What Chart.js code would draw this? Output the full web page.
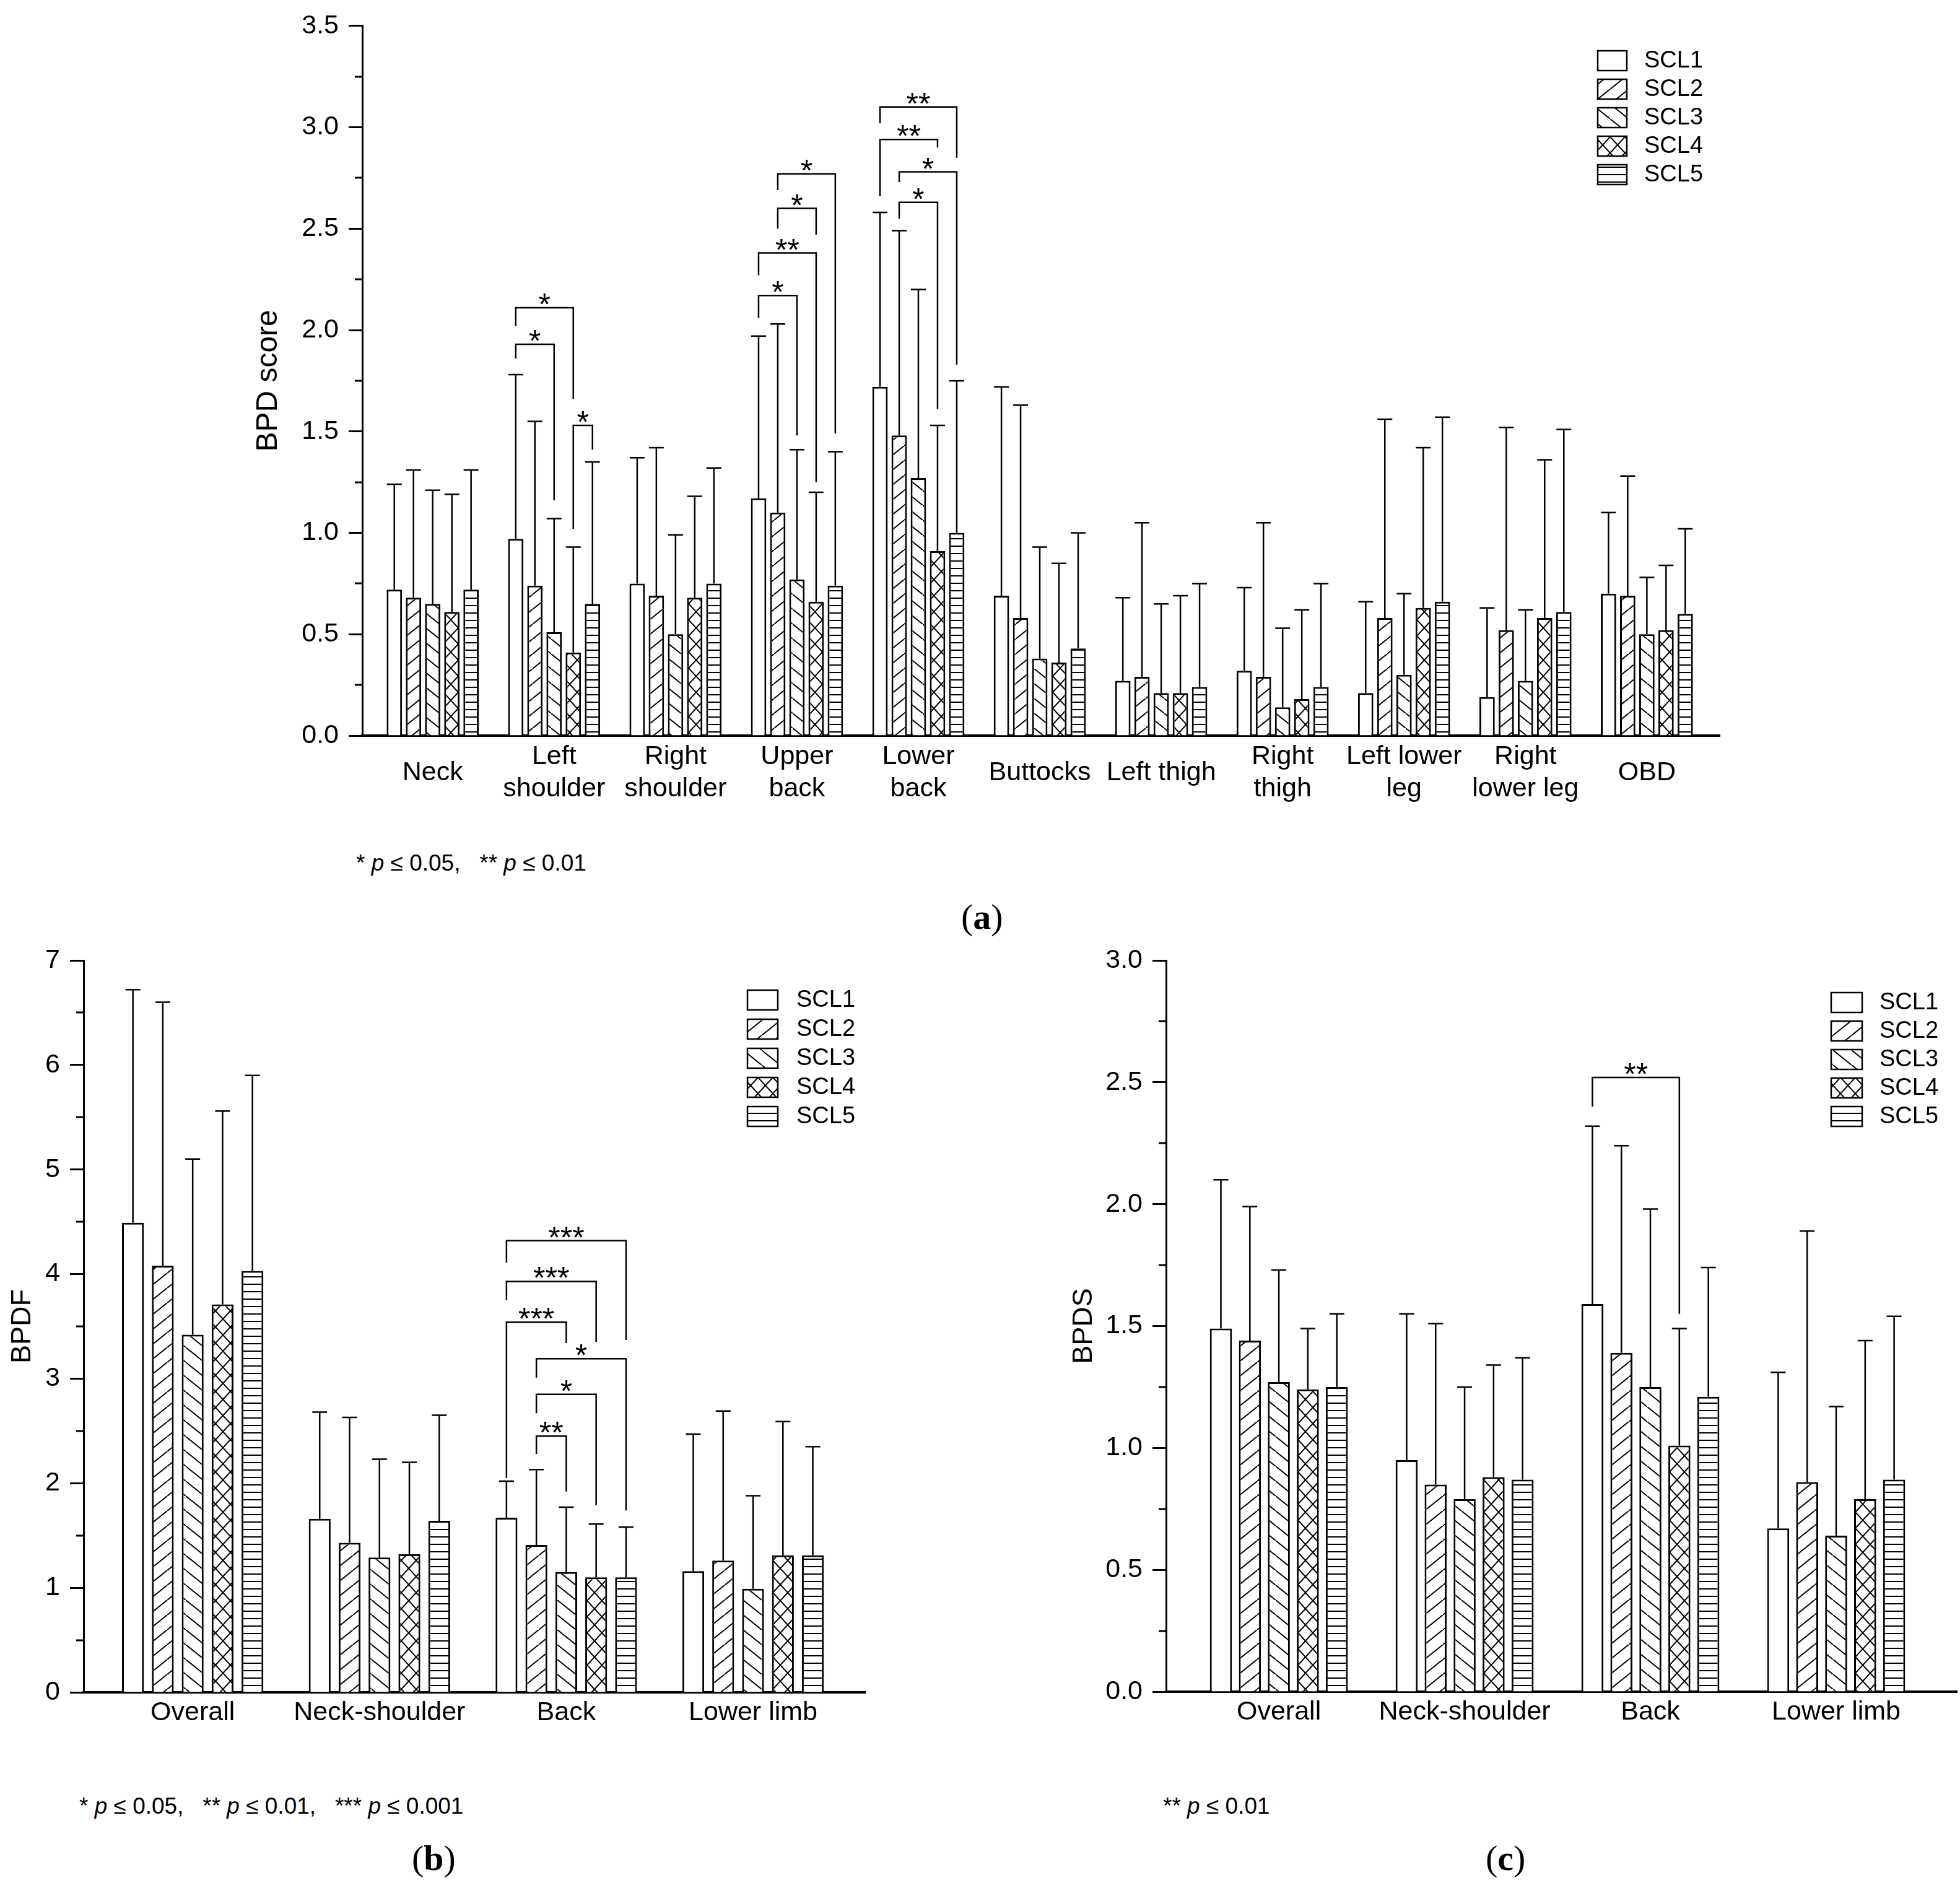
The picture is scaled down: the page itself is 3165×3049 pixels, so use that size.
<!DOCTYPE html>
<html>
<head>
<meta charset="utf-8">
<script src="https://cdn.jsdelivr.net/npm/chart.js@4.4.1/dist/chart.umd.min.js"></script>
<style>
  body { margin: 0; background: #fff; }
  #page { position: relative; width: 3165px; height: 3049px; background: #fff; font-family: "Liberation Sans", Arial, sans-serif; color: #000; }
  canvas { position: absolute; }
  .note { position: absolute; font-size: 37px; line-height: 1; white-space: pre; }
  .tag { position: absolute; font-family: "Liberation Serif", "Times New Roman", serif; font-size: 58px; line-height: 1; }
</style>
</head>
<body>
<div id="page">
  <canvas id="chart-a" width="2420" height="1330" style="left:380px;top:0px"></canvas>
  <canvas id="chart-b" width="1420" height="1330" style="left:0px;top:1480px"></canvas>
  <canvas id="chart-c" width="1465" height="1330" style="left:1700px;top:1480px"></canvas>
  <div class="note" style="left:575px;top:1375px">* <i>p</i> ≤ 0.05,   ** <i>p</i> ≤ 0.01</div>
  <div class="note" style="left:128px;top:2898px">* <i>p</i> ≤ 0.05,   ** <i>p</i> ≤ 0.01,   *** <i>p</i> ≤ 0.001</div>
  <div class="note" style="left:1878px;top:2898px">** <i>p</i> ≤ 0.01</div>
  <div class="tag" style="left:1552px;top:1452px">(<b>a</b>)</div>
  <div class="tag" style="left:665px;top:2972px">(<b>b</b>)</div>
  <div class="tag" style="left:2399px;top:2972px">(<b>c</b>)</div>
</div>
<script>
// series + categories
const seriesNames = ["SCL1", "SCL2", "SCL3", "SCL4", "SCL5"];
const regionsA = [["Neck"], ["Left", "shoulder"], ["Right", "shoulder"], ["Upper", "back"], ["Lower", "back"],
  ["Buttocks"], ["Left thigh"], ["Right", "thigh"], ["Left lower", "leg"], ["Right", "lower leg"], ["OBD"]];
const regionsBC = ["Overall", "Neck-shoulder", "Back", "Lower limb"];

// (a) BPD score, mean and SD
const aMean1 = [0.72, 0.97, 0.75, 1.17, 1.72, 0.69, 0.27, 0.32, 0.21, 0.19, 0.70];
const aMean2 = [0.68, 0.74, 0.69, 1.10, 1.48, 0.58, 0.29, 0.29, 0.58, 0.52, 0.69];
const aMean3 = [0.65, 0.51, 0.50, 0.77, 1.27, 0.38, 0.21, 0.14, 0.30, 0.27, 0.50];
const aMean4 = [0.61, 0.41, 0.68, 0.66, 0.91, 0.36, 0.21, 0.18, 0.63, 0.58, 0.52];
const aMean5 = [0.72, 0.65, 0.75, 0.74, 1.00, 0.43, 0.24, 0.24, 0.66, 0.61, 0.60];
const aSd1 = [0.52, 0.81, 0.62, 0.80, 0.86, 1.03, 0.41, 0.41, 0.45, 0.44, 0.40];
const aSd2 = [0.63, 0.81, 0.73, 0.93, 1.01, 1.05, 0.76, 0.76, 0.98, 1.00, 0.59];
const aSd3 = [0.56, 0.56, 0.49, 0.64, 0.93, 0.55, 0.44, 0.39, 0.40, 0.35, 0.28];
const aSd4 = [0.58, 0.52, 0.50, 0.54, 0.62, 0.49, 0.48, 0.44, 0.79, 0.78, 0.32];
const aSd5 = [0.59, 0.70, 0.57, 0.66, 0.75, 0.57, 0.51, 0.51, 0.91, 0.90, 0.42];

// (b) BPDF
const bMean1 = [4.49, 1.66, 1.67, 1.16];
const bMean2 = [4.08, 1.43, 1.41, 1.26];
const bMean3 = [3.42, 1.29, 1.15, 0.99];
const bMean4 = [3.71, 1.32, 1.10, 1.31];
const bMean5 = [4.03, 1.64, 1.10, 1.31];
const bSd1 = [2.23, 1.02, 0.35, 1.31];
const bSd2 = [2.52, 1.20, 0.72, 1.43];
const bSd3 = [1.68, 0.94, 0.62, 0.89];
const bSd4 = [1.85, 0.88, 0.51, 1.28];
const bSd5 = [1.87, 1.01, 0.48, 1.04];

// (c) BPDS
const cMean1 = [1.49, 0.95, 1.59, 0.67];
const cMean2 = [1.44, 0.85, 1.39, 0.86];
const cMean3 = [1.27, 0.79, 1.25, 0.64];
const cMean4 = [1.24, 0.88, 1.01, 0.79];
const cMean5 = [1.25, 0.87, 1.21, 0.87];
const cSd1 = [0.61, 0.60, 0.73, 0.64];
const cSd2 = [0.55, 0.66, 0.85, 1.03];
const cSd3 = [0.46, 0.46, 0.73, 0.53];
const cSd4 = [0.25, 0.46, 0.48, 0.65];
const cSd5 = [0.30, 0.50, 0.53, 0.67];

// significance brackets: [category, from series, to series, bar level, left leg end, right leg end, stars]
const sigA = [
  [1, 0, 2, 1.93, 1.86, 1.16, "*"], [1, 0, 3, 2.11, 2.02, 1.66, "*"], [1, 3, 4, 1.53, 1.02, 1.41, "*"],
  [3, 0, 2, 2.17, 2.06, 1.48, "*"], [3, 0, 3, 2.38, 2.27, 1.25, "**"], [3, 1, 3, 2.60, 2.50, 2.47, "*"], [3, 1, 4, 2.77, 2.69, 1.49, "*"],
  [4, 0, 4, 3.10, 3.02, 2.85, "**"], [4, 0, 3, 2.94, 2.66, 2.90, "**"], [4, 1, 4, 2.78, 2.73, 1.83, "*"], [4, 1, 3, 2.63, 2.55, 1.61, "*"]
];
const sigB = [
  [2, 0, 4, 4.32, 4.11, 3.37, "***"], [2, 0, 3, 3.93, 3.75, 3.35, "***"], [2, 0, 2, 3.54, 2.05, 3.34, "***"],
  [2, 1, 4, 3.19, 3.01, 1.74, "*"], [2, 1, 3, 2.85, 2.67, 1.79, "*"], [2, 1, 2, 2.45, 2.28, 1.92, "**"]
];
const sigC = [
  [2, 0, 3, 2.52, 2.40, 1.55, "**"]
];

const FONT = "'Liberation Sans', Arial, sans-serif";

function makeTile(w, h, draw) {
  const c = document.createElement("canvas");
  c.width = w; c.height = h;
  const t = c.getContext("2d");
  t.fillStyle = "#fff";
  t.fillRect(0, 0, w, h);
  t.strokeStyle = "#000";
  t.lineWidth = 2;
  t.beginPath();
  draw(t, w, h);
  t.stroke();
  return c;
}

function makePatterns(ctx) {
  const fwd = makeTile(30, 24, (t, w, h) => {
    t.moveTo(0, h); t.lineTo(w, 0);
    t.moveTo(-w, h); t.lineTo(0, 0);
    t.moveTo(w, 2 * h); t.lineTo(2 * w, h);
  });
  const back = makeTile(30, 24, (t, w, h) => {
    t.moveTo(0, 0); t.lineTo(w, h);
    t.moveTo(-w, -h); t.lineTo(0, 0);
    t.moveTo(w, h); t.lineTo(2 * w, 2 * h);
  });
  const cross = makeTile(24, 26, (t, w, h) => {
    t.moveTo(0, 0); t.lineTo(w, h);
    t.moveTo(0, h); t.lineTo(w, 0);
  });
  const horiz = makeTile(8, 12, (t, w, h) => {
    t.moveTo(0, 6); t.lineTo(w, 6);
  });
  return ["#fff",
    ctx.createPattern(fwd, "repeat"),
    ctx.createPattern(back, "repeat"),
    ctx.createPattern(cross, "repeat"),
    ctx.createPattern(horiz, "repeat")];
}

const extras = {
  id: "extras",
  afterDatasetsDraw(chart, args, opts) {
    const ctx = chart.ctx;
    const y = chart.scales.y;
    const area = chart.chartArea;
    ctx.save();
    ctx.strokeStyle = "#000";
    ctx.fillStyle = "#000";

    // minor ticks
    ctx.lineWidth = 3;
    ctx.beginPath();
    for (let k = 0; (2 * k + 1) * opts.minor < y.max; k++) {
      const py = Math.round(y.getPixelForValue((2 * k + 1) * opts.minor));
      ctx.moveTo(area.left - 12, py);
      ctx.lineTo(area.left, py);
    }
    ctx.stroke();

    // error bars (mean + SD)
    ctx.lineWidth = 2.5;
    chart.data.datasets.forEach((ds, d) => {
      const meta = chart.getDatasetMeta(d);
      meta.data.forEach((el, i) => {
        const top = y.getPixelForValue(ds.data[i].y + ds.sd[i]);
        ctx.beginPath();
        ctx.moveTo(el.x, el.y);
        ctx.lineTo(el.x, top);
        ctx.moveTo(el.x - 12, top);
        ctx.lineTo(el.x + 12, top);
        ctx.stroke();
      });
    });

    // significance brackets
    ctx.lineWidth = 2.5;
    ctx.font = "50px " + FONT;
    ctx.textAlign = "center";
    ctx.textBaseline = "alphabetic";
    opts.sig.forEach(([cat, a, b, level, ya, yb, stars]) => {
      const xa = chart.getDatasetMeta(a).data[cat].x;
      const xb = chart.getDatasetMeta(b).data[cat].x;
      const py = y.getPixelForValue(level);
      ctx.beginPath();
      ctx.moveTo(xa, y.getPixelForValue(ya));
      ctx.lineTo(xa, py);
      ctx.lineTo(xb, py);
      ctx.lineTo(xb, y.getPixelForValue(yb));
      ctx.stroke();
      const m = ctx.measureText(stars);
      ctx.fillText(stars, (xa + xb) / 2, py - 5 - m.actualBoundingBoxDescent);
    });

    // legend
    const lg = opts.legend;
    ctx.font = "38px " + FONT;
    ctx.textAlign = "left";
    ctx.textBaseline = "middle";
    chart.data.datasets.forEach((ds, d) => {
      const cy = lg.y + d * lg.pitch;
      ctx.fillStyle = ds.backgroundColor;
      ctx.fillRect(lg.x, cy - 16, lg.w, 32);
      ctx.lineWidth = 2.5;
      ctx.strokeRect(lg.x, cy - 16, lg.w, 32);
      ctx.fillStyle = "#000";
      ctx.fillText(ds.label, lg.textX, cy + 1);
    });
    ctx.restore();
  }
};

function buildChart(id, cfg) {
  const canvas = document.getElementById(id);
  const patterns = makePatterns(canvas.getContext("2d"));
  const datasets = cfg.means.map((m, s) => ({
    label: seriesNames[s],
    data: m.map((v, i) => ({ x: i, y: v })),
    sd: cfg.sds[s],
    backgroundColor: patterns[s],
    borderColor: "#000",
    borderWidth: 3,
    borderSkipped: "start",
    categoryPercentage: cfg.catPct,
    barPercentage: cfg.barPct
  }));

  return new Chart(canvas, {
    type: "bar",
    data: { datasets },
    plugins: [extras],
    options: {
      responsive: false,
      animation: false,
      devicePixelRatio: 1,
      layout: { padding: cfg.padding },
      plugins: {
        legend: { display: false },
        tooltip: { enabled: false },
        extras: { minor: cfg.minor, sig: cfg.sig, legend: cfg.legend }
      },
      scales: {
        x: {
          type: "linear",
          offset: false,
          min: cfg.xMin,
          max: cfg.xMax,
          grid: { display: false, drawTicks: false, offset: false },
          border: { display: true, color: "#000", width: 4 },
          afterBuildTicks: s => { s.ticks = s.ticks.filter(t => Number.isInteger(t.value)); },
          afterFit: s => { s.height = cfg.xHeight; },
          ticks: {
            stepSize: 1,
            includeBounds: false,
            autoSkip: false,
            maxRotation: 0,
            minRotation: 0,
            crossAlign: "center",
            padding: cfg.xPad,
            color: "#000",
            font: { family: FONT, size: 43, lineHeight: 1.22 },
            callback: v => cfg.labels[v]
          }
        },
        y: {
          min: 0,
          max: cfg.yMax,
          grid: { display: true, drawOnChartArea: false, drawTicks: true, tickLength: 22, tickWidth: 3, tickColor: "#000" },
          border: { display: true, color: "#000", width: 3 },
          afterFit: s => { s.width = cfg.yWidth; },
          ticks: {
            stepSize: cfg.major,
            padding: 16,
            color: "#000",
            font: { family: FONT, size: 43 },
            callback: v => cfg.fmt(v)
          },
          title: {
            display: true,
            text: cfg.title,
            color: "#000",
            font: { family: FONT, size: cfg.titleSize },
            padding: { top: cfg.titlePad, bottom: 0 }
          }
        }
      }
    }
  });
}

buildChart("chart-a", {
  means: [aMean1, aMean2, aMean3, aMean4, aMean5],
  sds: [aSd1, aSd2, aSd3, aSd4, aSd5],
  labels: regionsA,
  sig: sigA,
  xMin: -0.58, xMax: 10.6,
  yMax: 3.5, major: 0.5, minor: 0.25,
  fmt: v => v.toFixed(1),
  title: "BPD score", titleSize: 48, titlePad: 25,
  yWidth: 205, xHeight: 142, xPad: 34,
  padding: { left: 0, right: 23, top: 34, bottom: 0 },
  catPct: 0.79, barPct: 0.8,
  legend: { x: 2200, y: 98, pitch: 46, w: 47, textX: 2275 }
});

buildChart("chart-b", {
  means: [bMean1, bMean2, bMean3, bMean4, bMean5],
  sds: [bSd1, bSd2, bSd3, bSd4, bSd5],
  labels: regionsBC,
  sig: sigB,
  xMin: -0.584, xMax: 3.6,
  yMax: 7, major: 1, minor: 0.5,
  fmt: v => String(v),
  title: "BPDF", titleSize: 45, titlePad: 10,
  yWidth: 135, xHeight: 77, xPad: 33,
  padding: { left: 0, right: 23, top: 71, bottom: 0 },
  catPct: 0.8, barPct: 0.73,
  legend: { x: 1207, y: 135, pitch: 47, w: 49, textX: 1286 }
});

buildChart("chart-c", {
  means: [cMean1, cMean2, cMean3, cMean4, cMean5],
  sds: [cSd1, cSd2, cSd3, cSd4, cSd5],
  labels: regionsBC,
  sig: sigC,
  xMin: -0.607, xMax: 3.65,
  yMax: 3, major: 0.5, minor: 0.25,
  fmt: v => v.toFixed(1),
  title: "BPDS", titleSize: 45, titlePad: 24,
  yWidth: 183, xHeight: 78, xPad: 33,
  padding: { left: 0, right: 5, top: 71, bottom: 0 },
  catPct: 0.78, barPct: 0.76,
  legend: { x: 1257, y: 139, pitch: 46, w: 50, textX: 1335 }
});
</script>
</body>
</html>
